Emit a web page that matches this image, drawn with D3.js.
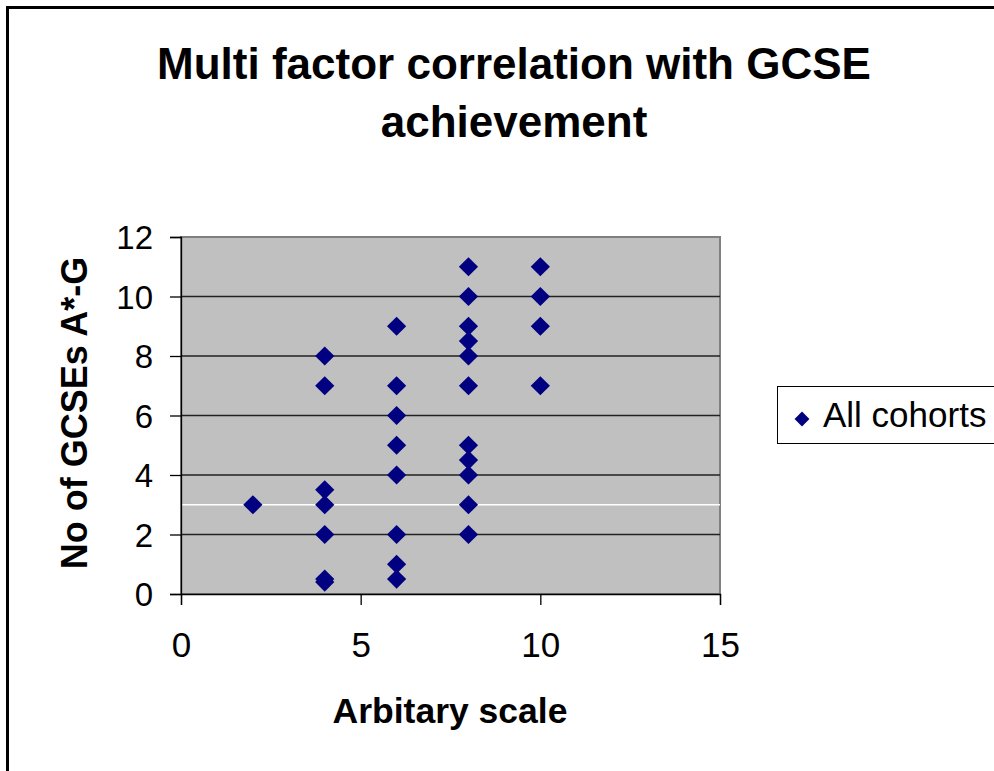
<!DOCTYPE html>
<html>
<head>
<meta charset="utf-8">
<script src="https://cdn.jsdelivr.net/npm/d3@7/dist/d3.min.js"></script>
<style>
	body { margin: 0; background: #fff; }
	text { font-family: "Liberation Sans", Arial, sans-serif; }
</style>
</head>
<body>
<div id="chart"></div>
<script>
'use strict';

// data
var scaleValues = [2, 4, 4, 4, 4, 4, 4, 4, 6, 6, 6, 6, 6, 6, 6, 6, 8, 8, 8, 8, 8, 8, 8, 8, 8, 8, 8, 10, 10, 10, 10];
var gcseCounts = [3, 8, 7, 3.5, 3, 2, 0.5, 0.4, 9, 7, 6, 5, 4, 2, 1, 0.5, 11, 10, 9, 8.5, 8, 7, 5, 4.5, 4, 3, 2, 11, 10, 9, 7];
var xTicks = [0, 5, 10, 15];
var yTicks = [0, 2, 4, 6, 8, 10, 12];
var seriesName = "All cohorts";
var whiteLineAt = 3;

var width = 994, height = 771;
var plot = { left: 181, right: 720, top: 237, bottom: 594 };

var svg = d3.select("#chart").//
append("svg").//
attr("width", width).//
attr("height", height);

// outer chart border
svg.append("rect").//
attr("x", 7.5).attr("y", 7.5).//
attr("width", 1200).attr("height", 1200).//
attr("fill", "none").attr("stroke", "#000").attr("stroke-width", 3);

var x = d3.scaleLinear().domain([0, 15]).range([plot.left, plot.right]);
var y = d3.scaleLinear().domain([0, 12]).range([plot.bottom, plot.top]);

// plot area
svg.append("rect").//
attr("x", plot.left).attr("y", plot.top).//
attr("width", plot.right - plot.left).attr("height", plot.bottom - plot.top).//
attr("fill", "#c0c0c0").attr("stroke", "#808080").attr("stroke-width", 2);

// gridlines
svg.append("g").selectAll("line").//
data(yTicks.filter(function(d) { return d > 0 && d < 12; })).enter().append("line").//
attr("x1", plot.left).attr("x2", plot.right).//
attr("y1", function(d) { return y(d); }).//
attr("y2", function(d) { return y(d); }).//
attr("stroke", "#222").attr("stroke-width", 1.3);

svg.append("line").//
attr("x1", plot.left).attr("x2", plot.right).//
attr("y1", y(whiteLineAt)).attr("y2", y(whiteLineAt)).//
attr("stroke", "#fff").attr("stroke-width", 1.3);

// axes
var yAxis = svg.append("g").//
attr("transform", "translate(" + plot.left + ",0)").//
call(d3.axisLeft(y).tickValues(yTicks).tickSize(11).tickPadding(17));

var xAxis = svg.append("g").//
attr("transform", "translate(0," + plot.bottom + ")").//
call(d3.axisBottom(x).tickValues(xTicks).tickSize(11).tickPadding(27));

[yAxis, xAxis].forEach(function(g) {
	g.select(".domain").attr("stroke", "#000").attr("stroke-width", 1.3);
	g.selectAll(".tick line").attr("stroke", "#000").attr("stroke-width", 1.3);
	g.selectAll(".tick text").//
	attr("fill", "#000").//
	style("font-family", '"Liberation Sans", Arial, sans-serif');
});
yAxis.selectAll(".tick text").attr("dy", "0.36em").style("font-size", "33px");
xAxis.selectAll(".tick text").attr("dy", "0.72em").style("font-size", "35px");

// points
var diamond = d3.symbol().type(d3.symbolSquare).size(185);

svg.append("g").selectAll("path").//
data(scaleValues).enter().append("path").//
attr("d", diamond).//
attr("transform", function(d, i) {
	return "translate(" + x(d) + "," + y(gcseCounts[i]) + ") rotate(45)";
}).//
attr("fill", "#000080");

// title
var title = svg.append("text").//
attr("text-anchor", "middle").//
style("font-size", "44px").style("font-weight", "bold");
title.append("tspan").attr("x", 514).attr("y", 79).text("Multi factor correlation with GCSE");
title.append("tspan").attr("x", 514).attr("y", 137).text("achievement");

// axis titles
svg.append("text").//
attr("transform", "translate(87,413) rotate(-90)").//
attr("text-anchor", "middle").//
style("font-size", "36px").style("font-weight", "bold").//
text("No of GCSEs A*-G");

svg.append("text").//
attr("x", 450).attr("y", 723).//
attr("text-anchor", "middle").//
style("font-size", "35.5px").style("font-weight", "bold").//
text("Arbitary scale");

// legend
var legend = svg.append("g");
legend.append("rect").//
attr("x", 777.5).attr("y", 386.5).//
attr("width", 300).attr("height", 57).//
attr("fill", "#fff").attr("stroke", "#000").attr("stroke-width", 1);
legend.append("path").//
attr("d", d3.symbol().type(d3.symbolSquare).size(110)).//
attr("transform", "translate(802,419) rotate(45)").//
attr("fill", "#000080");
legend.append("text").//
attr("x", 823).attr("y", 427).//
style("font-size", "35px").//
text(seriesName);
</script>
</body>
</html>
